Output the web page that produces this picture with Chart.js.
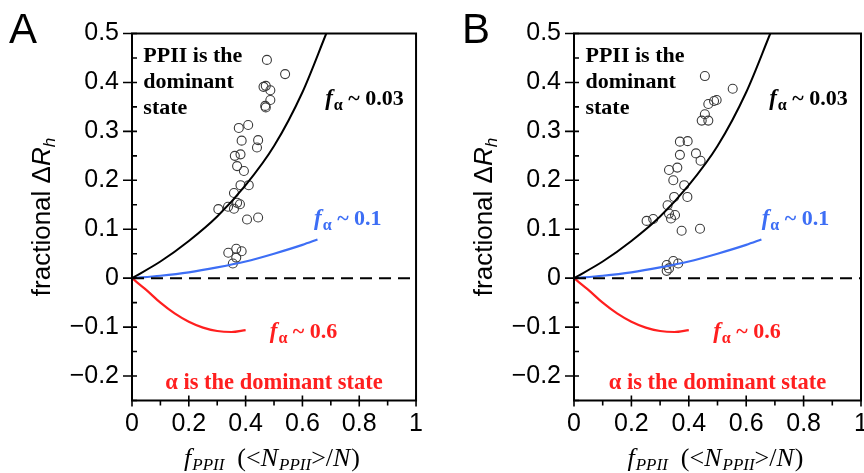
<!DOCTYPE html>
<html><head><meta charset="utf-8">
<script src="https://cdn.jsdelivr.net/npm/chart.js@4.4.1/dist/chart.umd.min.js"></script>
<style>
html,body{margin:0;padding:0;background:#fff;overflow:hidden;width:864px;height:473px;}
#wrapA{position:absolute;left:0;top:0;width:432px;height:473px;}
#wrapB{position:absolute;left:432px;top:0;width:452px;height:473px;}
canvas{display:block;}
</style></head><body>
<div id="wrapA"><canvas id="cA" width="432" height="473"></canvas></div>
<div id="wrapB"><canvas id="cB" width="452" height="473"></canvas></div>
<script>
// ---------- axes ----------
const xTickValues = [0, 0.2, 0.4, 0.6, 0.8, 1];
const xTickLabels = ['0', '0.2', '0.4', '0.6', '0.8', '1'];
const xMinorTicks = [0.1, 0.3, 0.5, 0.7, 0.9];
const yTickValues = [-0.2, -0.1, 0, 0.1, 0.2, 0.3, 0.4, 0.5];
const yTickLabels = ['\u22120.2', '\u22120.1', '0', '0.1', '0.2', '0.3', '0.4', '0.5'];
const yMinorTicks = [-0.25, -0.15, -0.05, 0.05, 0.15, 0.25, 0.35, 0.45];

// ---------- model curves ----------
const zeroLineF = [0, 1];
const zeroLineR = [0, 0];
const curve003F = [0, 0.1, 0.2, 0.3, 0.4, 0.5, 0.6, 0.684];
const curve003R = [0, 0.034, 0.076, 0.126, 0.19, 0.27, 0.38, 0.5];
const curve01F = [0, 0.1, 0.2, 0.3, 0.4, 0.5, 0.6, 0.653];
const curve01R = [0, 0.005, 0.012, 0.022, 0.034, 0.05, 0.068, 0.079];
const curve06F = [0, 0.05, 0.1, 0.15, 0.2, 0.25, 0.3, 0.35, 0.4];
const curve06R = [0, -0.024, -0.05, -0.072, -0.089, -0.101, -0.108, -0.11, -0.106];

// ---------- measured points ----------
const dataAF = [0.475, 0.539, 0.463, 0.471, 0.487, 0.487, 0.471, 0.469, 0.376, 0.409, 0.386, 0.444, 0.440, 0.362, 0.382, 0.370,
                0.394, 0.382, 0.411, 0.359, 0.370, 0.380, 0.338, 0.359, 0.304, 0.405, 0.444, 0.339, 0.367, 0.386, 0.367, 0.355];
const dataAR = [0.446, 0.417, 0.391, 0.393, 0.384, 0.364, 0.349, 0.352, 0.307, 0.313, 0.281, 0.282, 0.267, 0.250, 0.253, 0.229,
                0.219, 0.190, 0.190, 0.174, 0.154, 0.151, 0.146, 0.142, 0.141, 0.120, 0.124, 0.052, 0.060, 0.055, 0.042, 0.030];
const dataBF = [0.456, 0.553, 0.468, 0.488, 0.497, 0.456, 0.445, 0.468, 0.369, 0.396, 0.369, 0.425, 0.441, 0.331, 0.360, 0.346,
                0.384, 0.395, 0.349, 0.326, 0.331, 0.338, 0.352, 0.253, 0.276, 0.375, 0.439, 0.323, 0.346, 0.363, 0.331, 0.323];
const dataBR = [0.413, 0.387, 0.356, 0.362, 0.364, 0.335, 0.322, 0.322, 0.279, 0.280, 0.252, 0.255, 0.240, 0.221, 0.226, 0.200,
                0.190, 0.166, 0.166, 0.149, 0.132, 0.122, 0.129, 0.117, 0.121, 0.097, 0.101, 0.027, 0.035, 0.030, 0.020, 0.015];

const SANS = '"Liberation Sans", Arial, Helvetica, sans-serif';
const SERIF = '"Liberation Serif", "Times New Roman", serif';
const RED = '#ff1f1f';
const BLUE = '#3d6ef5';

function zip(xs, ys) { return xs.map((v, i) => ({ x: v, y: ys[i] })); }

function drawParts(ctx, x, y, parts, align) {
  let w = 0;
  parts.forEach(p => { ctx.font = p.font; w += ctx.measureText(p.t).width + (p.gap || 0); });
  let cx = align === 'center' ? x - w / 2 : x;
  parts.forEach(p => {
    ctx.font = p.font;
    ctx.fillStyle = p.color || '#000';
    ctx.fillText(p.t, cx, y + (p.dy || 0));
    cx += ctx.measureText(p.t).width + (p.gap || 0);
  });
}

function fAlpha(value, color) {
  return [
    { t: 'f', font: 'bold italic 23px ' + SERIF, color, gap: 1 },
    { t: '\u03b1', font: 'bold 16px ' + SERIF, color, dy: 5 },
    { t: ' ~ ' + value, font: 'bold 22px ' + SERIF, color }
  ];
}

const overlay = {
  id: 'overlay',
  afterDraw(chart) {
    const { ctx, chartArea: ca } = chart;
    const x = chart.scales.x, y = chart.scales.y;
    const cfg = chart.options.plugins.overlay;
    ctx.save();
    ctx.textBaseline = 'alphabetic';
    ctx.textAlign = 'left';
    // frame
    ctx.strokeStyle = '#000';
    ctx.lineWidth = 2;
    ctx.strokeRect(ca.left, ca.top, ca.right - ca.left, ca.bottom - ca.top);
    // ticks
    ctx.lineWidth = 1.6;
    ctx.beginPath();
    yTickValues.forEach(v => { const p = y.getPixelForValue(v); ctx.moveTo(ca.left - 9, p); ctx.lineTo(ca.left + 5, p); });
    yMinorTicks.forEach(v => { const p = y.getPixelForValue(v); ctx.moveTo(ca.left, p); ctx.lineTo(ca.left + 5, p); });
    xTickValues.forEach(v => { const p = x.getPixelForValue(v); ctx.moveTo(p, ca.bottom + 6); ctx.lineTo(p, ca.bottom - 5); });
    xMinorTicks.forEach(v => { const p = x.getPixelForValue(v); ctx.moveTo(p, ca.bottom); ctx.lineTo(p, ca.bottom + 5); });
    ctx.stroke();

    // panel letter
    ctx.fillStyle = '#000';
    ctx.font = '42px ' + SANS;
    ctx.fillText(cfg.letter, cfg.letterX, 43);

    // y title (rotated)
    ctx.save();
    ctx.translate(ca.left - 82, (ca.top + ca.bottom) / 2);
    ctx.rotate(-Math.PI / 2);
    drawParts(ctx, 0, 0, [
      { t: 'fractional \u0394', font: '26px ' + SANS },
      { t: 'R', font: 'italic 26px ' + SANS },
      { t: 'h', font: 'italic 17px ' + SANS, dy: 5 }
    ], 'center');
    ctx.restore();

    // x title
    drawParts(ctx, x.getPixelForValue(0.493), 466, [
      { t: 'f', font: 'italic 26px ' + SERIF, gap: 1 },
      { t: 'PPII', font: 'italic 17px ' + SERIF, dy: 4 },
      { t: '  (<', font: '26px ' + SERIF },
      { t: 'N', font: 'italic 26px ' + SERIF, gap: 1 },
      { t: 'PPII', font: 'italic 17px ' + SERIF, dy: 4 },
      { t: '>/', font: '26px ' + SERIF },
      { t: 'N', font: 'italic 26px ' + SERIF, gap: 1 },
      { t: ')', font: '26px ' + SERIF }
    ], 'center');

    // annotations
    ctx.font = 'bold 22px ' + SERIF;
    ctx.fillStyle = '#000';
    const ppX = x.getPixelForValue(0.04), ppY = y.getPixelForValue(0.442);
    ['PPII is the', 'dominant', 'state'].forEach((s, i) => ctx.fillText(s, ppX, ppY + i * 26));

    drawParts(ctx, x.getPixelForValue(0.68), y.getPixelForValue(0.354), fAlpha('0.03', '#000'));
    drawParts(ctx, x.getPixelForValue(cfg.f01X), y.getPixelForValue(0.108), fAlpha('0.1', BLUE));
    drawParts(ctx, x.getPixelForValue(0.485), y.getPixelForValue(-0.123), fAlpha('0.6', RED));

    ctx.font = 'bold 22.5px ' + SERIF;
    ctx.fillStyle = RED;
    ctx.textAlign = 'center';
    ctx.fillText('\u03b1 is the dominant state', x.getPixelForValue(0.5), y.getPixelForValue(-0.227));
    ctx.restore();
  }
};

function build(canvasId, pf, pr, cfg) {
  return new Chart(document.getElementById(canvasId), {
    type: 'scatter',
    data: {
      datasets: [
        { type: 'line', data: zip(zeroLineF, zeroLineR), borderColor: '#000', borderWidth: 2, borderDash: [12, 7], pointRadius: 0 },
        { type: 'line', data: zip(curve003F, curve003R), borderColor: '#000', borderWidth: 2, pointRadius: 0, cubicInterpolationMode: 'monotone' },
        { type: 'line', data: zip(curve01F, curve01R), borderColor: BLUE, borderWidth: 2.2, pointRadius: 0, cubicInterpolationMode: 'monotone' },
        { type: 'line', data: zip(curve06F, curve06R), borderColor: RED, borderWidth: 2.2, pointRadius: 0, cubicInterpolationMode: 'monotone' },
        { type: 'scatter', data: zip(pf, pr), pointRadius: 4.5, pointBorderWidth: 1.1, borderColor: '#3a3a3a', backgroundColor: 'rgba(255,255,255,0)', pointStyle: 'circle' }
      ]
    },
    options: {
      responsive: false,
      animation: false,
      devicePixelRatio: 1,
      layout: { padding: { left: 0, right: cfg.padRight, top: 33.5, bottom: 0 } },
      plugins: { legend: { display: false }, tooltip: { enabled: false }, overlay: cfg },
      scales: {
        x: {
          type: 'linear', min: 0, max: 1,
          afterBuildTicks: s => { s.ticks = xTickValues.map(v => ({ value: v })); },
          afterFit: s => { s.height = 72.5; },
          ticks: { callback: (v, i) => xTickLabels[i], font: { family: SANS, size: 25 }, color: '#000', padding: 9, maxRotation: 0, autoSkip: false },
          grid: { display: false, drawTicks: false },
          border: { display: false }
        },
        y: {
          type: 'linear', min: -0.25, max: 0.5,
          afterBuildTicks: s => { s.ticks = yTickValues.map(v => ({ value: v })); },
          afterFit: s => { s.width = cfg.yWidth; },
          ticks: { callback: (v, i) => yTickLabels[i], font: { family: SANS, size: 25 }, color: '#000', padding: 13, autoSkip: false },
          grid: { display: false, drawTicks: false },
          border: { display: false }
        }
      }
    },
    plugins: [overlay]
  });
}

build('cA', dataAF, dataAR, { letter: 'A', letterX: 9, padRight: 13, yWidth: 132, f01X: 0.641 });
build('cB', dataBF, dataBR, { letter: 'B', letterX: 30, padRight: 23, yWidth: 142, f01X: 0.654 });
</script>
</body></html>
